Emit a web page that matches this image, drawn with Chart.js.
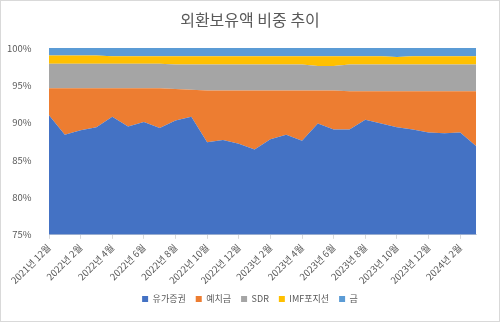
<!DOCTYPE html>
<html>
<head>
<meta charset="utf-8">
<script src="https://cdn.jsdelivr.net/npm/chart.js@4/dist/chart.umd.min.js"></script>
<style>
  body { margin: 0; background: #fff; }
  #chart { display: block; }
</style>
</head>
<body>
<canvas id="chart" width="500" height="322"></canvas>
<script>
const months = [
    "2021년 12월", "2022년 1월", "2022년 2월", "2022년 3월", "2022년 4월", "2022년 5월", "2022년 6월",
    "2022년 7월", "2022년 8월", "2022년 9월", "2022년 10월", "2022년 11월", "2022년 12월",
    "2023년 1월", "2023년 2월", "2023년 3월", "2023년 4월", "2023년 5월", "2023년 6월",
    "2023년 7월", "2023년 8월", "2023년 9월", "2023년 10월", "2023년 11월", "2023년 12월",
    "2024년 1월", "2024년 2월", "2024년 3월"
]

// shares in percent
const securities = [91.0, 88.4, 89.0, 89.4, 90.8, 89.5, 90.1, 89.3, 90.3, 90.8, 87.4, 87.7, 87.2, 86.4, 87.8, 88.4, 87.6, 89.9, 89.1, 89.1, 90.4, 89.9, 89.4, 89.1, 88.7, 88.6, 88.7, 86.9]
const deposits = [3.6, 6.2, 5.6, 5.2, 3.8, 5.1, 4.5, 5.3, 4.2, 3.6, 6.9, 6.6, 7.1, 7.9, 6.5, 5.9, 6.7, 4.4, 5.2, 5.1, 3.8, 4.3, 4.8, 5.1, 5.5, 5.6, 5.5, 7.3]
const sdr = [3.3, 3.3, 3.3, 3.3, 3.3, 3.3, 3.3, 3.3, 3.3, 3.4, 3.5, 3.5, 3.5, 3.5, 3.5, 3.5, 3.5, 3.3, 3.3, 3.6, 3.6, 3.6, 3.6, 3.6, 3.6, 3.6, 3.6, 3.6]
const imfPosition = [1.1, 1.1, 1.1, 1.1, 1.0, 1.0, 1.0, 1.0, 1.1, 1.1, 1.1, 1.1, 1.1, 1.1, 1.1, 1.1, 1.1, 1.3, 1.3, 1.1, 1.1, 1.1, 1.0, 1.1, 1.1, 1.1, 1.1, 1.1]
const gold = [1.0, 1.0, 1.0, 1.0, 1.1, 1.1, 1.1, 1.1, 1.1, 1.1, 1.1, 1.1, 1.1, 1.1, 1.1, 1.1, 1.1, 1.1, 1.1, 1.1, 1.1, 1.1, 1.2, 1.1, 1.1, 1.1, 1.1, 1.1]

const seriesNames = ["유가증권", "예치금", "SDR", "IMF포지션", "금"]
const seriesColors = ["#4472C4", "#ED7D31", "#A5A5A5", "#FFC000", "#5B9BD5"]
const yTicks = [75, 80, 85, 90, 95, 100]

const font = "'Noto Sans CJK KR', 'Noto Sans', sans-serif"
const textColor = "#595959"

const seriesData = [securities, deposits, sdr, imfPosition, gold]

const datasets = seriesData.map((data, i) => ({
    label: seriesNames[i],
    data: data,
    backgroundColor: seriesColors[i],
    borderColor: seriesColors[i],
    borderWidth: 0,
    pointRadius: 0,
    tension: 0,
    fill: i == 0 ? "origin" : "-1"
}))

const frame = {
    id: "frame",
    beforeDraw(chart) {
        const ctx = chart.ctx
        ctx.save()
        ctx.fillStyle = "#fff"
        ctx.fillRect(0, 0, chart.width, chart.height)
        ctx.restore()
    },
    afterDraw(chart) {
        const ctx = chart.ctx
        ctx.save()
        ctx.strokeStyle = "#d9d9d9"
        ctx.lineWidth = 1
        ctx.strokeRect(0.5, 0.5, chart.width - 1, chart.height - 1)
        ctx.restore()
    }
}

new Chart(document.getElementById("chart"), {
    type: "line",
    data: { labels: months, datasets: datasets },
    plugins: [frame],
    options: {
        responsive: false,
        animation: false,
        layout: { padding: { left: 0, right: 0, top: 0, bottom: 8.6 } },
        plugins: {
            title: {
                display: true,
                text: "외환보유액 비중 추이",
                color: textColor,
                font: { family: font, size: 16, weight: "normal", lineHeight: 1.25 },
                padding: { top: 10, bottom: 18 }
            },
            legend: {
                position: "bottom",
                labels: {
                    boxWidth: 6,
                    boxHeight: 6,
                    padding: 10,
                    color: textColor,
                    font: { family: font, size: 9 }
                }
            },
            tooltip: { enabled: false }
        },
        scales: {
            x: {
                grid: {
                    display: true,
                    drawOnChartArea: false,
                    tickLength: 4,
                    tickColor: (ctx) => ctx.index % 2 == 0 ? "#d9d9d9" : "rgba(0,0,0,0)"
                },
                border: { display: true, color: "#d9d9d9" },
                ticks: {
                    autoSkip: false,
                    minRotation: 45,
                    maxRotation: 45,
                    padding: 3,
                    color: textColor,
                    font: { family: font, size: 9.5 },
                    callback: function (value, index) {
                        return index % 2 == 0 ? this.getLabelForValue(value) : ""
                    }
                },
                afterFit: (scale) => { scale.height = 49.6 }
            },
            y: {
                stacked: true,
                min: yTicks[0],
                max: yTicks[yTicks.length - 1],
                grid: { display: false },
                border: { display: false },
                afterBuildTicks: (scale) => { scale.ticks = yTicks.map(v => ({ value: v })) },
                ticks: {
                    padding: 9.5,
                    color: textColor,
                    font: { family: font, size: 9.5 },
                    callback: (v) => v + "%"
                },
                afterFit: (scale) => { scale.width = 49 }
            },
            // empty right margin so the title and legend stay centred on the whole chart
            yRight: {
                position: "right",
                grid: { display: false },
                border: { display: false },
                ticks: { display: false },
                afterFit: (scale) => { scale.width = 24 }
            }
        }
    }
})
</script>
</body>
</html>
